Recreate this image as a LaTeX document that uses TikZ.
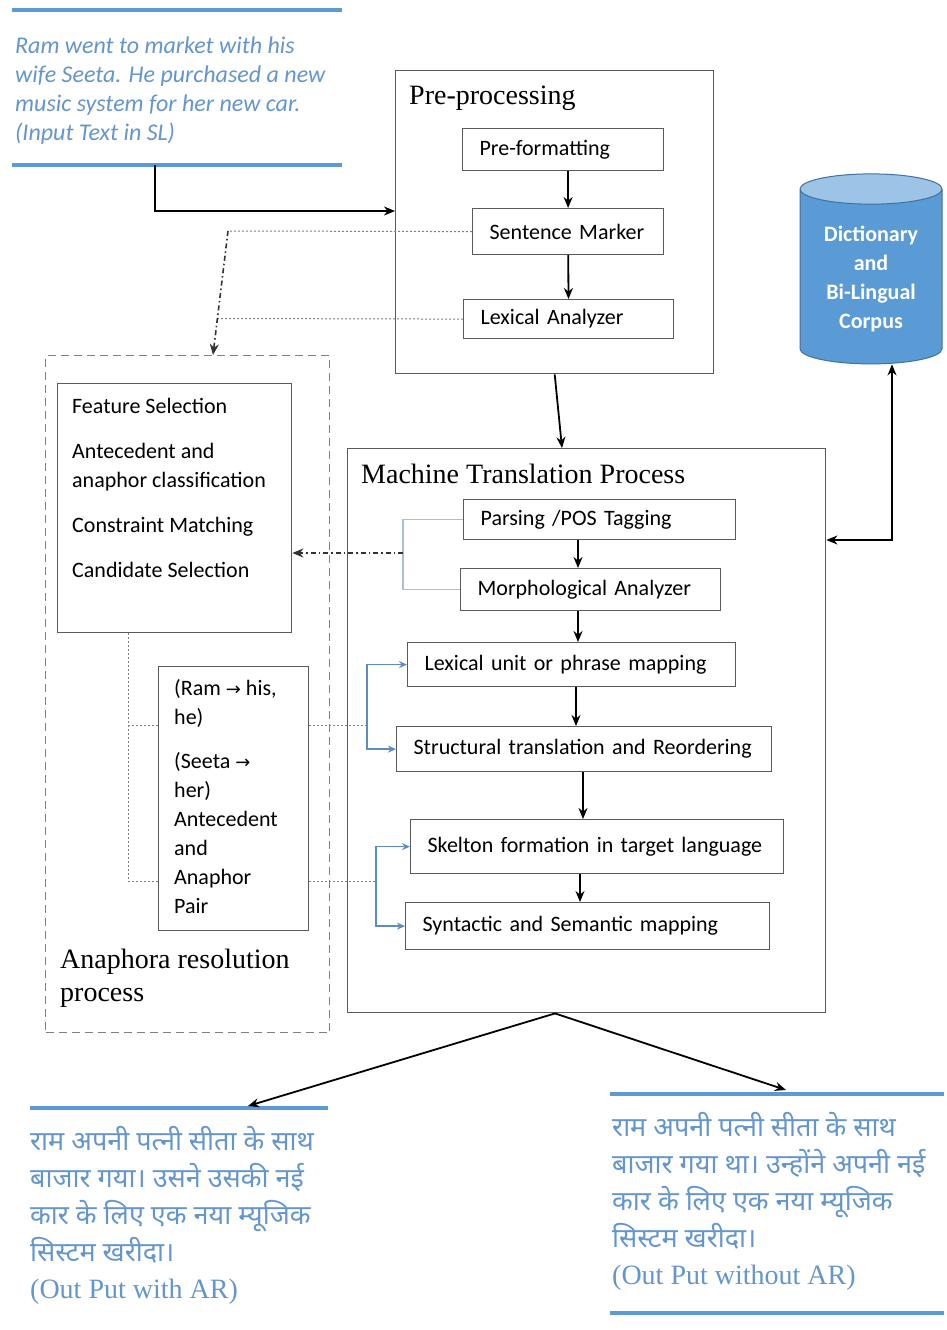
\documentclass[tikz,border=0pt]{standalone}
\usepackage{fontspec}
\setmainfont{Liberation Serif}
\newfontfamily\boxfont{Carlito}
\newfontfamily\hindifont[Script=Devanagari]{Noto Sans}
\newfontfamily\symfont{DejaVu Sans}
\usetikzlibrary{shapes.geometric, positioning, arrows.meta}

\definecolor{ruleblue}{RGB}{91,155,213}
\definecolor{inkblue}{RGB}{100,150,205}
\definecolor{boxgray}{RGB}{90,90,90}
\definecolor{linkblue}{RGB}{95,140,190}
\definecolor{paleblue}{RGB}{170,190,215}
\definecolor{dbtop}{RGB}{157,195,230}
\definecolor{dbedge}{RGB}{65,113,156}

\begin{document}
\begin{tikzpicture} [x=1pt, y=-1pt,
            stagebox/.style = {draw=boxgray, line width=1.4pt, anchor=north west, inner sep=0pt},
            procbox/.style = {draw=boxgray, line width=1.2pt, anchor=north west,
                inner xsep=0pt, inner ysep=0pt, align=left,
                font=\boxfont\fontsize{22}{26}\selectfont,
                execute at begin node={\noindent\hspace*{17pt}}},
            boxtitle/.style = {anchor=west, inner sep=0pt, font=\fontsize{28}{33}\selectfont},
            blurb/.style = {anchor=north west, inner sep=0pt, align=left, text=inkblue},
            hindi/.style = {blurb, font=\hindifont\fontsize{27}{37}\selectfont},
            bluerule/.style = {draw=ruleblue, line width=4pt},
            dotline/.style = {draw=gray, line width=1pt, dash pattern=on 2pt off 2pt},
            dashlink/.style = {draw=black!80, line width=1.6pt,
                dash pattern=on 5pt off 3pt on 1.5pt off 3pt,
                -{Stealth[length=11pt, width=9pt]}},
            flow/.style = {-{Stealth[length=11pt, width=9pt]}, line width=1.8pt},
            bluelink/.style = {draw=linkblue, line width=1.3pt,
                -{Stealth[length=8pt, width=7pt]}}]

        \fill [white] (0,0) rectangle (944,1330);

        % Input text
        \draw [bluerule] (12,10) -- (342,10);
        \node (input) [blurb,
            font=\boxfont\itshape\fontsize{24}{29}\selectfont] at (15,37)
            {Ram went to market with his\\ wife Seeta. He purchased a new\\
             music system for her new car.\\ (Input Text in SL)};
        \draw [bluerule] (12,165) -- (342,165);
        \coordinate (inrule) at (155,165);

        % Pre-processing
        \node (pre) [stagebox,
            minimum width=318pt, minimum height=303pt] at (395,70) {};
        \node (preTitle) [boxtitle] at (409,98) {Pre-processing};
        \node (pf) [procbox,
            text width=201pt, minimum height=42pt] at (462,128) {Pre-formatting};
        \node (sm) [procbox,
            text width=191pt, minimum height=46pt] at (472,208) {Sentence Marker};
        \node (la) [procbox,
            text width=210pt, minimum height=39pt] at (463,299) {Lexical Analyzer};

        % Dictionary
        \node (dict) [cylinder, shape border rotate=90, aspect=0.3,
            draw=dbedge, line width=1pt,
            cylinder uses custom fill, cylinder body fill=ruleblue,
            cylinder end fill=dbtop,
            minimum width=142pt, minimum height=190pt,
            text=white, align=center,
            font=\boxfont\bfseries\fontsize{22}{29}\selectfont] at (871,279)
            {Dictionary\\ and\\ Bi-Lingual\\ Corpus};

        % Machine Translation Process
        \node (mt) [stagebox,
            minimum width=478pt, minimum height=564pt] at (347,448) {};
        \node (mtTitle) [boxtitle] at (361,474) {Machine Translation Process};
        \node (pos) [procbox,
            text width=272pt, minimum height=40pt] at (463,499) {Parsing /POS Tagging};
        \node (morph) [procbox,
            text width=260pt, minimum height=42pt] at (460,568) {Morphological Analyzer};
        \node (lex) [procbox,
            text width=328pt, minimum height=44pt] at (407,642) {Lexical unit or phrase mapping};
        \node (struct) [procbox,
            text width=375pt, minimum height=45pt] at (396,726) {Structural translation and Reordering};
        \node (skel) [procbox,
            text width=373pt, minimum height=54pt] at (410,819) {Skelton formation in target language};
        \node (synt) [procbox,
            text width=364pt, minimum height=47pt] at (405,902) {Syntactic and Semantic mapping};

        % Anaphora resolution process
        \node (anaphora) [stagebox, draw=gray, dash pattern=on 8pt off 5pt,
            minimum width=284pt, minimum height=677pt] at (45,355) {};
        \node (feat) [stagebox,
            minimum width=234pt, minimum height=249pt] at (57,383) {};
        \node (featText) [anchor=north west, inner sep=0pt, align=left,
            font=\boxfont\fontsize{22}{29}\selectfont] at (72,398)
            {Feature Selection\\[16pt] Antecedent and\\ anaphor classification\\[16pt]
             Constraint Matching\\[16pt] Candidate Selection};
        \node (pair) [stagebox,
            minimum width=150pt, minimum height=264pt] at (158,666) {};
        \node (pairText) [anchor=north west, inner sep=0pt, align=left,
            font=\boxfont\fontsize{22}{29}\selectfont] at (174,679)
            {(Ram {\symfont\fontsize{18}{29}\selectfont →} his,\\ he)\\[15pt]
             (Seeta {\symfont\fontsize{18}{29}\selectfont →}\\ her)\\ Antecedent\\ and\\ Anaphor\\ Pair};
        \node (anaphoraTitle) [anchor=north west, inner sep=0pt, align=left,
            font=\fontsize{28}{33}\selectfont] at (60,949) {Anaphora resolution\\ process};

        % Outputs
        \draw [bluerule] (30,1108) -- (328,1108);
        \node (withAR) [hindi] at (30,1126)
            {राम अपनी पत्नी सीता के साथ\\ बाजार गया। उसने उसकी नई\\
             कार के लिए एक नया म्यूजिक\\ सिस्टम खरीदा।\\
             {\rmfamily\fontsize{28}{37}\selectfont (Out Put with AR)}};
        \draw [bluerule] (610,1094) -- (944,1094);
        \node (withoutAR) [hindi] at (612,1112)
            {राम अपनी पत्नी सीता के साथ\\ बाजार गया था। उन्होंने अपनी नई\\
             कार के लिए एक नया म्यूजिक\\ सिस्टम खरीदा।\\
             {\rmfamily\fontsize{28}{37}\selectfont (Out Put without AR)}};
        \draw [bluerule] (610,1313) -- (944,1313);

        % Link points
        \coordinate (d1) at (228,231);
        \coordinate (d2) at (218,318.5);
        \coordinate (b1) at (403,553);
        \coordinate (b2) at (367,725);
        \coordinate (b3) at (376,881);
        \coordinate (fork) at (mt.south -| 555,0);
        \coordinate (outL) at (248,1106);
        \coordinate (outR) at (786,1090);

        % Arrows
        \draw [flow, line width=2.2pt] (inrule) |- (pre.west |- 0,211);
        \path [flow]
            (pf.south -| sm.north) edge (sm.north)
            (sm) edge (la)
            (pre.south) edge (mt.north -| 562,0)
            (fork) edge (outL)
            (fork) edge (outR);
        \draw [{Stealth[length=11pt, width=9pt]}-{Stealth[length=11pt, width=9pt]}, line width=1.8pt]
            ([xshift=21pt]dict.south) |- (mt.east |- 0,540);
        \foreach \a/\b/\x in {pos/morph/578, morph/lex/578, lex/struct/576,
                              struct/skel/583, skel/synt/580}
            \draw [flow] (\a.south -| \x,0) -- (\b.north -| \x,0);

        % Blue brackets
        \draw [paleblue, line width=1.2pt] (pos.west) -| (b1) |- (morph.west);
        \draw [bluelink] (b2) |- (lex.west);
        \draw [bluelink] (b2) |- (struct.west);
        \draw [bluelink] (b3) |- (skel.west);
        \draw [bluelink] (b3) |- (synt.west);

        % Anaphora links
        \draw [dotline] (sm.west) -- (d1);
        \draw [dotline] (la.west) -- (d2);
        \draw [dashlink] (d1) -- (213,0 |- anaphora.north);
        \draw [dashlink] (b1) -- (feat.east |- b1);
        \draw [dotline] (feat.south -| 128,0) |- (pair.west |- b3);
        \draw [dotline] (128,0 |- b2) -- (pair.west |- b2);
        \draw [dotline] (pair.east |- b2) -- (b2);
        \draw [dotline] (pair.east |- b3) -- (b3);
\end{tikzpicture}
\end{document}
